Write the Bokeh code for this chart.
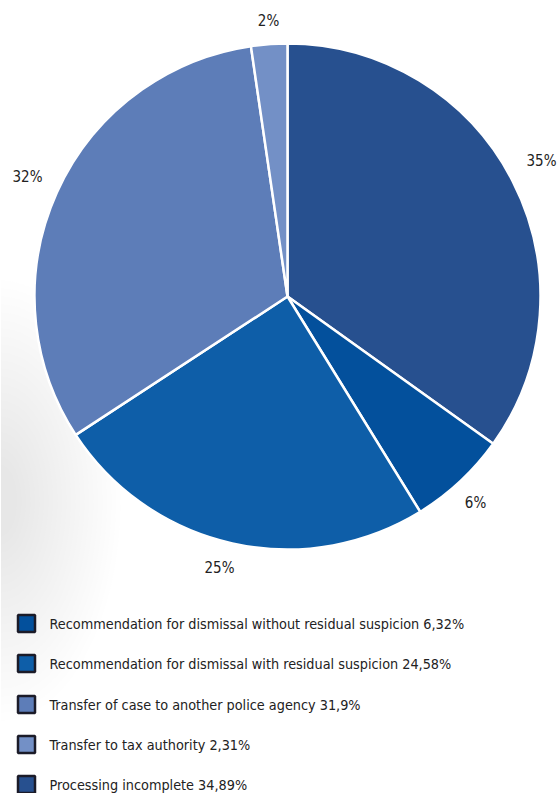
import math
from bokeh.plotting import figure
from bokeh.models import Range1d
from bokeh.core.properties import value
from bokeh.embed import file_html
from bokeh.resources import INLINE

# Data (clockwise from 12 o'clock)
categories = [
    "Processing incomplete 34,89%",
    "Recommendation for dismissal without residual suspicion 6,32%",
    "Recommendation for dismissal with residual suspicion 24,58%",
    "Transfer of case to another police agency 31,9%",
    "Transfer to tax authority  2,31%",
]
shares = [34.89, 6.32, 24.58, 31.9, 2.31]
pct_labels = ["35%", "6%", "25%", "32%", "2%"]
colors = ["#27508f", "#03509c", "#0e5ea8", "#5d7db8", "#7390c6"]
legend_order = [1, 2, 3, 4, 0]

FONT = "DejaVu Sans Condensed"
W, H = 559, 793


def Y(py):
    return H - py


p = figure(width=W, height=H, output_backend="svg", toolbar_location=None,
           x_range=Range1d(0, W), y_range=Range1d(0, H),
           min_border=0, outline_line_color=None)
p.axis.visible = False
p.grid.visible = False
p.background_fill_color = "white"
p.border_fill_color = "white"

# faint background shadow on the left
n = 24
for i in range(n):
    p.ellipse(x=[0], y=[Y(500)], width=[240 - i * 9], height=[440 - i * 16],
              fill_color="#9aa0a8", fill_alpha=0.012, line_color=None)

cx, cy, r = 287, Y(296), 253
total = sum(shares)
starts, ends = [], []
ang = math.pi / 2
for s in shares:
    a2 = ang - s / total * 2 * math.pi
    starts.append(a2)
    ends.append(ang)
    ang = a2
p.wedge(x=[cx] * 5, y=[cy] * 5, radius=r, start_angle=starts, end_angle=ends,
        fill_color=colors, line_color="white", line_width=2.5)

# percentage labels
label_pos = [(541, 160), (475, 502), (219, 567), (27, 176), (268, 20)]
lx = [a for a, b in label_pos]
ly = [Y(b) for a, b in label_pos]
p.text(x=lx, y=ly, text=pct_labels, text_font=value(FONT), text_font_size="15px",
       text_color="#222222", text_align="center", text_baseline="middle")

# legend
ys = [623, 663, 704, 744, 784]
sq_x, sq_y, txt_x, txt_y, sq_c, txt = [], [], [], [], [], []
for row, idx in enumerate(legend_order):
    sq_x.append(26)
    sq_y.append(Y(ys[row]))
    sq_c.append(colors[idx])
    txt_x.append(49)
    txt_y.append(Y(ys[row]))
    txt.append(categories[idx])
p.rect(x=sq_x, y=sq_y, width=17, height=17, fill_color=sq_c,
       line_color="#1b1b28", line_width=2.5)
p.text(x=txt_x, y=txt_y, text=txt, text_font=value(FONT), text_font_size="14.3px",
       text_color="#222222", text_align="left", text_baseline="middle")

open("out.html", "w").write(file_html(p, INLINE))
